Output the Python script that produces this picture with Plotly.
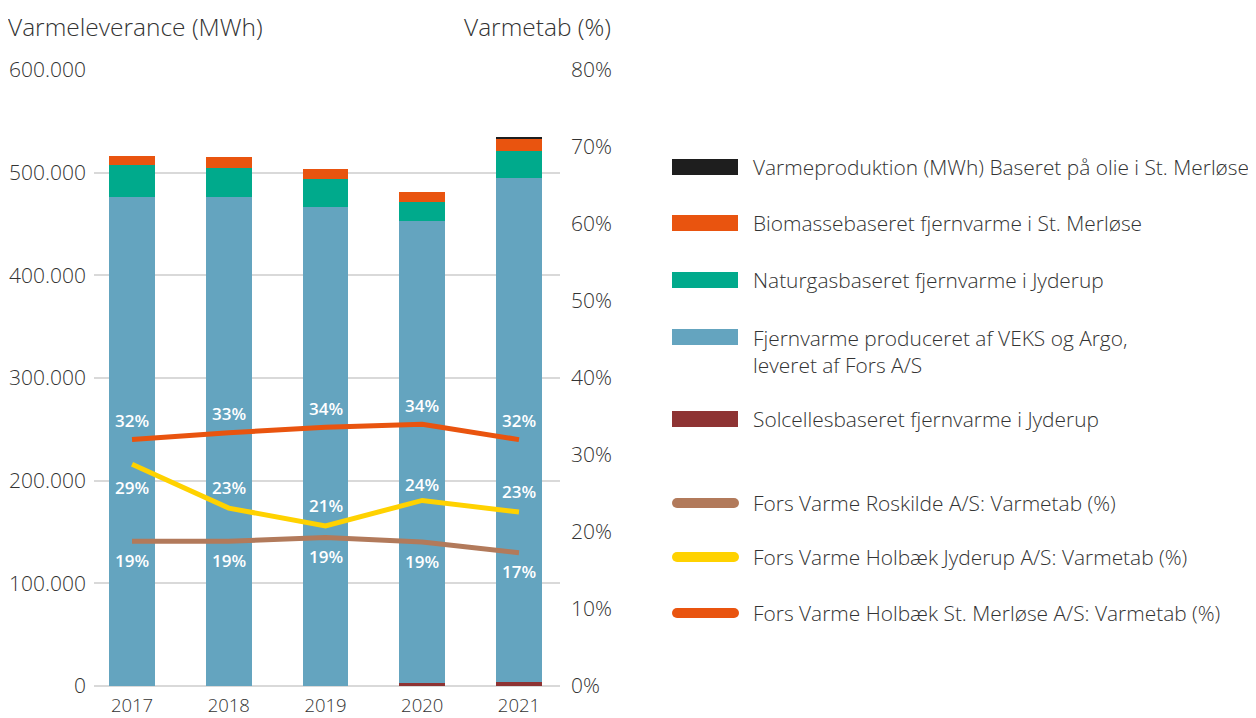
import plotly.graph_objects as go

years = ["2017", "2018", "2019", "2020", "2021"]

# Heat delivery (MWh), stacked bottom -> top
solcelle = [0, 0, 0, 2500, 4000]
veks_argo = [476000, 476000, 466500, 450500, 491000]
naturgas = [31000, 29000, 27300, 18700, 26200]
biomasse = [9700, 10000, 9800, 9300, 11800]
olie = [0, 0, 0, 0, 1200]

# Heat loss (%)
tab_roskilde = [18.8, 18.8, 19.3, 18.7, 17.3]
tab_jyderup = [28.8, 23.1, 20.8, 24.1, 22.6]
tab_merlose = [32.0, 32.9, 33.6, 34.0, 32.0]

left_ticks = [0, 100000, 200000, 300000, 400000, 500000, 600000]
right_ticks = [0, 10, 20, 30, 40, 50, 60, 70, 80]
right_ticktext = [f"{v}%" for v in right_ticks]

C_BLACK = "#1E1E1E"
C_ORANGE = "#E9540F"
C_GREEN = "#00AA8C"
C_BLUE = "#64A4BF"
C_RED = "#8E3333"
C_BROWN = "#B27A5B"
C_YELLOW = "#FFD200"
TXT = "#333333"
FONT = "Open Sans"
WT = 300

OFF = 8  # default page body margin
W, H = 1256 - OFF, 718 - OFF
L, R, T, B = 94 - OFF, 560 - OFF, 70 - OFF, 686 - OFF

def px(x):
    return (x - OFF - L) / (R - L)

def py(y):
    return (B - (y - OFF)) / (B - T)

fig = go.Figure()

bar_series = [
    ("Solcellesbaseret fjernvarme i Jyderup", solcelle, C_RED),
    ("Fjernvarme produceret af VEKS og Argo, leveret af Fors A/S", veks_argo, C_BLUE),
    ("Naturgasbaseret fjernvarme i Jyderup", naturgas, C_GREEN),
    ("Biomassebaseret fjernvarme i St. Merløse", biomasse, C_ORANGE),
    ("Varmeproduktion (MWh) Baseret på olie i St. Merløse", olie, C_BLACK),
]
for name, vals, col in bar_series:
    fig.add_trace(go.Bar(x=years, y=vals, name=name, marker=dict(color=col, line=dict(width=0)),
                         yaxis="y", hoverinfo="name+y"))

line_series = [
    ("Fors Varme Roskilde A/S: Varmetab (%)", tab_roskilde, C_BROWN),
    ("Fors Varme Holbæk Jyderup A/S: Varmetab (%)", tab_jyderup, C_YELLOW),
    ("Fors Varme Holbæk St. Merløse A/S: Varmetab (%)", tab_merlose, C_ORANGE),
]
for name, vals, col in line_series:
    fig.add_trace(go.Scatter(x=years, y=vals, name=name, mode="lines",
                             line=dict(color=col, width=5), yaxis="y2"))

annotations = []
# data labels (category index used for x)
label_font = dict(family=FONT, size=17, color="white", weight=600)
yellow_shift = [-23, 21, 20, 16, 20]
for i, yr in enumerate(years):
    annotations.append(dict(x=i, y=tab_merlose[i], xref="x", yref="y2", text=f"{tab_merlose[i]:.0f}%",
                            showarrow=False, yshift=19, font=label_font))
    annotations.append(dict(x=i, y=tab_jyderup[i], xref="x", yref="y2", text=f"{tab_jyderup[i]:.0f}%",
                            showarrow=False, yshift=yellow_shift[i], font=label_font))
    annotations.append(dict(x=i, y=tab_roskilde[i], xref="x", yref="y2", text=f"{tab_roskilde[i]:.0f}%",
                            showarrow=False, yshift=-19, font=label_font))

# axis titles
annotations.append(dict(x=px(6), y=py(26), xref="paper", yref="paper", text="Varmeleverance (MWh)",
                        showarrow=False, xanchor="left", yanchor="middle",
                        font=dict(family=FONT, size=24.5, color=TXT, weight=WT)))
annotations.append(dict(x=px(613), y=py(26), xref="paper", yref="paper", text="Varmetab (%)",
                        showarrow=False, xanchor="right", yanchor="middle",
                        font=dict(family=FONT, size=24.5, color=TXT, weight=WT)))

# custom legend
shapes = []
leg_font = dict(family=FONT, size=20.9, color=TXT, weight=WT)
rect_items = [
    (167, C_BLACK, "Varmeproduktion (MWh) Baseret på olie i St. Merløse"),
    (223, C_ORANGE, "Biomassebaseret fjernvarme i St. Merløse"),
    (280, C_GREEN, "Naturgasbaseret fjernvarme i Jyderup"),
    (337, C_BLUE, "Fjernvarme produceret af VEKS og Argo,<br>leveret af Fors A/S"),
    (419, C_RED, "Solcellesbaseret fjernvarme i Jyderup"),
]
for cy, col, txt in rect_items:
    shapes.append(dict(type="rect", xref="paper", yref="paper", x0=px(672), x1=px(738),
                       y0=py(cy + 8), y1=py(cy - 8), fillcolor=col, line=dict(width=0)))
    annotations.append(dict(x=px(751), y=py(cy), xref="paper", yref="paper", text=txt, showarrow=False,
                            xanchor="left", yanchor="top" if "<br>" in txt else "middle",
                            yshift=15 if "<br>" in txt else 0, align="left",
                            font=leg_font))
line_items = [
    (503, C_BROWN, line_series[0][0]),
    (557, C_YELLOW, line_series[1][0]),
    (613, C_ORANGE, line_series[2][0]),
]
for cy, col, txt in line_items:
    shapes.append(dict(type="rect", xref="paper", yref="paper", x0=px(677), x1=px(734),
                       y0=py(cy + 5), y1=py(cy - 5), fillcolor=col, line=dict(width=0)))
    for cx in (677, 734):
        shapes.append(dict(type="circle", xref="paper", yref="paper", x0=px(cx - 5), x1=px(cx + 5),
                           y0=py(cy + 5), y1=py(cy - 5), fillcolor=col, line=dict(width=0)))
    annotations.append(dict(x=px(751), y=py(cy), xref="paper", yref="paper", text=txt, showarrow=False,
                            xanchor="left", yanchor="middle", font=leg_font))

fig.update_layout(
    width=W, height=H,
    margin=dict(l=L, r=W - R, t=T, b=H - B, pad=0, autoexpand=False),
    barmode="stack", bargap=0.525,
    plot_bgcolor="white", paper_bgcolor="white",
    separators=",.",
    showlegend=False,
    font=dict(family=FONT, color=TXT),
    xaxis=dict(type="category", range=[-0.393, 4.424], showgrid=False, showline=False, zeroline=False,
               automargin=False, ticks="", ticklabelstandoff=6,
               tickfont=dict(family=FONT, size=18.5, color=TXT, weight=WT), fixedrange=True),
    yaxis=dict(range=[0, 600000], tickvals=left_ticks, tickformat=",d", showgrid=True, automargin=False,
               gridcolor="#D9D9D9", gridwidth=2, zeroline=True, zerolinecolor="#D9D9D9", zerolinewidth=2,
               showline=False, ticks="", ticklabelstandoff=7,
               tickfont=dict(family=FONT, size=21, color=TXT, weight=WT)),
    yaxis2=dict(range=[0, 80], tickvals=right_ticks, ticktext=right_ticktext, overlaying="y", side="right",
                showgrid=False, zeroline=False, showline=False, ticks="", ticklabelstandoff=10,
                automargin=False, tickfont=dict(family=FONT, size=21, color=TXT, weight=WT)),
    annotations=annotations,
    shapes=shapes,
)

fig.write_html("out.html")
